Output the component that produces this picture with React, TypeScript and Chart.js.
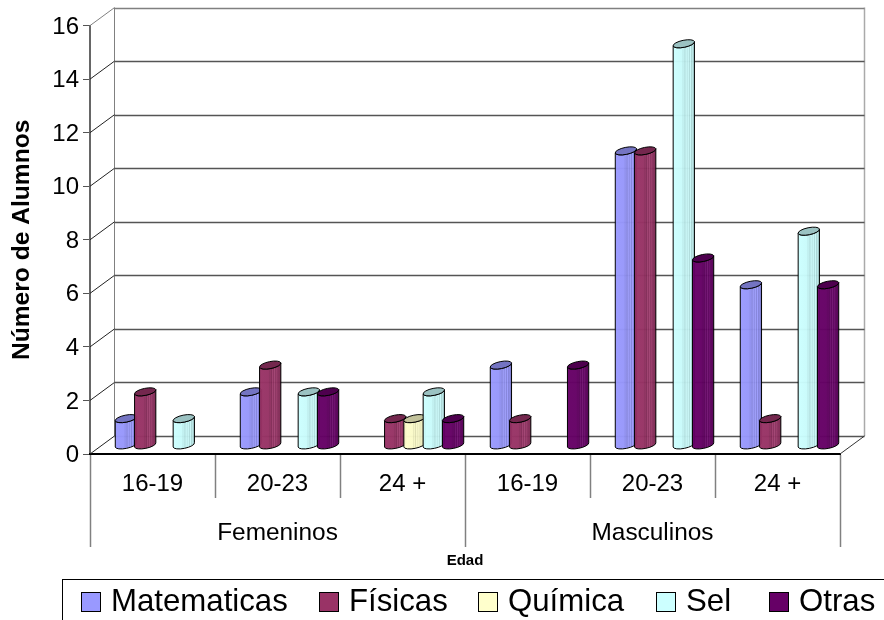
import React, { useEffect, useRef } from "react";
import { Chart, registerables } from "chart.js";

Chart.register(...registerables);

const groups = ["Femeninos", "Masculinos"];
const ageBands = ["16-19", "20-23", "24 +", "16-19", "20-23", "24 +"];
const matematicas = [1, 2, null, 3, 11, 6];
const fisicas = [2, 3, 1, 1, 11, 1];
const quimica = [null, null, 1, null, null, null];
const sel = [1, 2, 2, null, 15, 8];
const otras = [null, 2, 1, 3, 7, 6];
const seriesNames = ["Matematicas", "Físicas", "Química", "Sel", "Otras"];
const seriesValues = [matematicas, fisicas, quimica, sel, otras];
const seriesColors = ["#9999ff", "#993366", "#ffffcc", "#ccffff", "#660066"];

const FONT = "'Liberation Sans', Arial, sans-serif";
const DEPTH_X = 24.5;
const DEPTH_Y = -18;
const BAR_DX = 12;
const BAR_DY = -8.6;
const LEGEND_X = [81, 319, 478, 656, 769];

function shade(hex: string, f: number) {
  const n = parseInt(hex.slice(1), 16);
  const c = [(n >> 16) & 255, (n >> 8) & 255, n & 255].map((v) =>
    Math.round(f <= 1 ? v * f : v + (255 - v) * (f - 1))
  );
  return `rgb(${c[0]},${c[1]},${c[2]})`;
}

function drawCylinder(ctx: CanvasRenderingContext2D, cx: number, top: number, bottom: number, r: number, color: string) {
  const rot = -0.2;
  const ry = 3.5;
  const ex = r * Math.cos(rot);
  const ey = r * Math.sin(rot);
  const g = ctx.createLinearGradient(cx - r, 0, cx + r, 0);
  const stops: [number, number][] = [
    [0, 1], [0.42, 0.98], [0.46, 0.9], [0.5, 0.96], [0.56, 0.84], [0.6, 1.06], [0.66, 0.88], [0.7, 1.08],
    [0.76, 0.85], [0.8, 1.04], [0.86, 0.82], [0.9, 0.9], [1, 0.72],
  ];
  stops.forEach(([p, f]) => g.addColorStop(p, shade(color, f)));
  ctx.save();
  ctx.lineWidth = 1;
  ctx.strokeStyle = "#000";
  ctx.beginPath();
  ctx.moveTo(cx - ex, top - ey);
  ctx.lineTo(cx - ex, bottom - ey);
  ctx.ellipse(cx, bottom, r, ry, rot, Math.PI, 0, true);
  ctx.lineTo(cx + ex, top + ey);
  ctx.ellipse(cx, top, r, ry, rot, 0, Math.PI, false);
  ctx.closePath();
  ctx.fillStyle = g;
  ctx.globalAlpha = 0.97;
  ctx.fill();
  ctx.globalAlpha = 1;
  ctx.stroke();
  ctx.beginPath();
  ctx.ellipse(cx, top, r, ry, rot, 0, Math.PI * 2);
  ctx.fillStyle = shade(color, 0.76);
  ctx.fill();
  ctx.stroke();
  ctx.restore();
}

const walls3d = {
  id: "walls3d",
  beforeDatasetsDraw(chart: any) {
    const { ctx, scales } = chart;
    const y = scales.y;
    const left = scales.x.left;
    const right = scales.x.right;
    const y0 = y.getPixelForValue(0);
    const yMax = y.getPixelForValue(16);
    ctx.save();
    ctx.lineWidth = 1;
    ctx.strokeStyle = "#808080";
    ctx.beginPath();
    ctx.moveTo(left + DEPTH_X, y0 + DEPTH_Y);
    ctx.lineTo(left + DEPTH_X, yMax + DEPTH_Y);
    ctx.stroke();
    ctx.strokeStyle = "#aaaaaa";
    ctx.lineWidth = 1.5;
    ctx.beginPath();
    ctx.moveTo(right + DEPTH_X, y0 + DEPTH_Y);
    ctx.lineTo(right + DEPTH_X, yMax + DEPTH_Y);
    ctx.stroke();
    y.ticks.forEach((t: any) => {
      const py = y.getPixelForValue(t.value);
      ctx.lineWidth = 1;
      ctx.strokeStyle = t.value === 16 ? "#808080" : "#222";
      ctx.beginPath();
      ctx.moveTo(left, py);
      ctx.lineTo(left + DEPTH_X, py + DEPTH_Y);
      ctx.stroke();
      ctx.lineWidth = 1.3;
      ctx.strokeStyle = t.value === 16 ? "#808080" : "#555";
      ctx.beginPath();
      ctx.moveTo(left + DEPTH_X, Math.round(py + DEPTH_Y) + 0.5);
      ctx.lineTo(right + DEPTH_X, Math.round(py + DEPTH_Y) + 0.5);
      ctx.stroke();
    });
    ctx.lineWidth = 1;
    ctx.strokeStyle = "#333";
    ctx.beginPath();
    ctx.moveTo(right, y0);
    ctx.lineTo(right + DEPTH_X, y0 + DEPTH_Y);
    ctx.stroke();
    ctx.restore();

    seriesNames.forEach((_, i) => {
      const meta = chart.getDatasetMeta(i);
      meta.data.forEach((el: any, j: number) => {
        if (seriesValues[i][j] == null) return;
        const { x, y: top, base, width } = el.getProps(["x", "y", "base", "width"], true);
        drawCylinder(ctx, x + BAR_DX, top + BAR_DY, base + BAR_DY, width / 2 + 1.2, seriesColors[i]);
      });
    });
    return false;
  },
  afterDraw(chart: any) {
    const { ctx } = chart;
    ctx.save();
    ctx.strokeStyle = "#000";
    ctx.lineWidth = 1;
    ctx.strokeRect(62.5, 579.5, 900, 80);
    ctx.font = `31.2px ${FONT}`;
    ctx.textBaseline = "middle";
    ctx.textAlign = "left";
    seriesNames.forEach((name, i) => {
      const x = LEGEND_X[i];
      ctx.fillStyle = seriesColors[i];
      ctx.fillRect(x + 0.5, 592.5, 19, 19);
      ctx.strokeRect(x + 0.5, 592.5, 19, 19);
      ctx.fillStyle = "#000";
      ctx.fillText(name, x + 30, 602);
    });
    ctx.restore();
  },
};

export default function App() {
  const ref = useRef<HTMLCanvasElement>(null);
  useEffect(() => {
    const chart = new Chart(ref.current!, {
      type: "bar",
      data: {
        labels: ageBands,
        datasets: seriesNames.map((label, i) => ({
          label,
          data: seriesValues[i],
          backgroundColor: seriesColors[i],
          categoryPercentage: 0.772,
          barPercentage: 1,
        })),
      },
      options: {
        responsive: false,
        animation: false,
        layout: { padding: { top: 25.6, right: 44, bottom: 50, left: 0 } },
        plugins: { legend: { display: false }, tooltip: { enabled: false } },
        scales: {
          y: {
            min: 0,
            max: 16,
            ticks: { stepSize: 2, color: "#000", padding: 4, labelOffset: 1.5, font: { family: FONT, size: 24 } },
            grid: { drawOnChartArea: false, tickLength: 7, tickColor: "#555", tickWidth: 1 },
            border: { color: "#666", width: 2 },
            title: {
              display: true,
              text: "Número de Alumnos",
              color: "#000",
              padding: { top: 7, bottom: 0 },
              font: { family: FONT, size: 24.6, weight: "bold" },
            },
            afterFit: (s: any) => { s.width = 90; },
          },
          x: {
            offset: true,
            ticks: { color: "#000", padding: -28, autoSkip: false, maxRotation: 0, font: { family: FONT, size: 24 } },
            grid: { offset: true, drawOnChartArea: false, tickLength: 44, tickColor: "#808080", tickWidth: 1.5 },
            border: { color: "#000", width: 2 },
            afterFit: (s: any) => { s.height = 44; },
          },
          x2: {
            type: "category",
            position: "bottom",
            labels: groups,
            offset: true,
            ticks: { color: "#000", padding: -28, autoSkip: false, maxRotation: 0, font: { family: FONT, size: 24.4 } },
            grid: { offset: true, drawOnChartArea: false, tickLength: 49, tickColor: "#808080", tickWidth: 1.5 },
            border: { display: false },
            title: {
              display: true,
              text: "Edad",
              color: "#000",
              padding: 0,
              font: { family: FONT, size: 15, weight: "bold" },
            },
            afterFit: (s: any) => { s.height = 72; },
          },
        },
      } as any,
      plugins: [walls3d as any],
    });
    return () => chart.destroy();
  }, []);
  return (
    <canvas
      ref={ref}
      width={884}
      height={620}
      style={{ position: "absolute", left: 0, top: 0, width: 884, height: 620 }}
    />
  );
}
